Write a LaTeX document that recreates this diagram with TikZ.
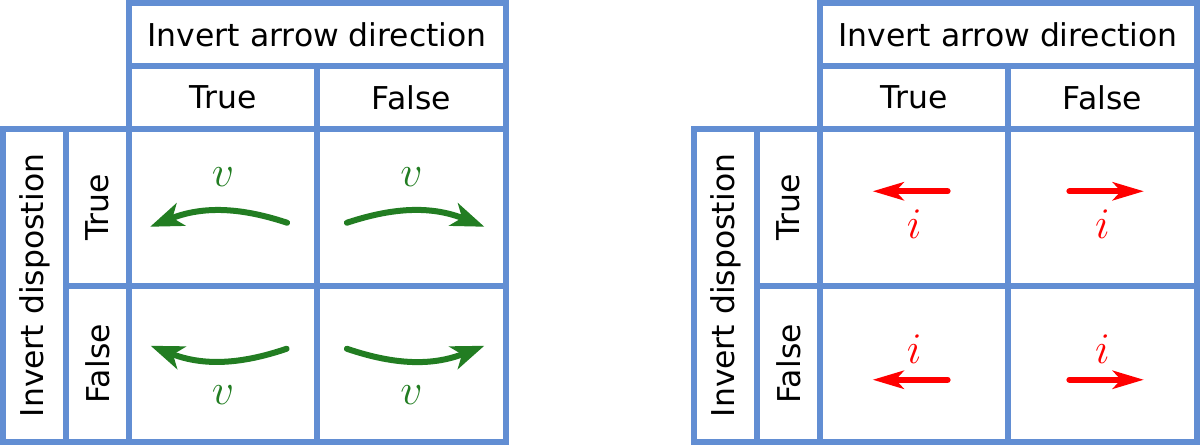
\documentclass[tikz,border=0pt]{standalone}
\usepackage{fontspec}
\setmainfont{DejaVu Sans}
\usepackage{tikz}
\usetikzlibrary{
    arrows.meta,
    positioning
}

\definecolor{gridblue}{RGB}{98,142,211}
\definecolor{vgreen}{RGB}{34,125,34}
\definecolor{ired}{RGB}{255,0,0}

\begin{document}
\begin{tikzpicture}[
    node distance=0cm,
    cell/.style={
        draw=gridblue,
        line width=1.2mm,
        outer sep=0pt,
        inner sep=0pt,
        align=center,
        font=\fontsize{17.9}{21}\selectfont
    },
    headcell/.style={cell, minimum width=7.53cm, minimum height=1.26cm},
    colcell/.style={cell, minimum width=3.765cm, minimum height=1.26cm},
    rowcell/.style={cell, minimum width=1.26cm, minimum height=3.13cm},
    sidecell/.style={cell, minimum width=1.26cm, minimum height=6.26cm},
    bodycell/.style={cell, minimum width=3.765cm, minimum height=3.13cm},
    varlabel/.style={font=\fontsize{26}{30}\selectfont},
    vflow/.style={
        draw=vgreen, line width=1.2mm, line cap=round,
        -{Stealth[length=6.6mm, width=4.8mm, inset=1.8mm]}
    },
    iflow/.style={
        draw=ired, line width=1.2mm, line cap=round,
        -{Stealth[length=6.2mm, width=3.6mm, inset=1.6mm]}
    }
]

\useasboundingbox (0,0) rectangle (24,-8.92);

% voltage table
\node[headcell, anchor=north west] (vhead) at (2.58,-0.06)
{Invert arrow direction};
\node[colcell, below right=0cm and 0cm of vhead.south west] (vcolT) {True};
\node[colcell, right=of vcolT] (vcolF) {False};
\node[bodycell, below=of vcolT] (vTT) {};
\node[bodycell, right=of vTT] (vTF) {};
\node[bodycell, below=of vTT] (vFT) {};
\node[bodycell, right=of vFT] (vFF) {};
\node[rowcell, left=of vTT] (vrowT) {\rotatebox{90}{True}};
\node[rowcell, left=of vFT] (vrowF) {\rotatebox{90}{False}};
\node[sidecell, below left=0cm and 0cm of vrowT.north west] (vside)
{\rotatebox{90}{Invert dispostion}};

\draw[vflow] ([shift={(1.28,-0.31)}]vTT.center)
    to[bend right=20] ([shift={(-1.46,-0.39)}]vTT.center);
\node[varlabel, text=vgreen] (vTTlab) at ([yshift=0.61cm]vTT.center) {$v$};

\draw[vflow] ([shift={(-1.29,-0.31)}]vTF.center)
    to[bend left=20] ([shift={(1.46,-0.39)}]vTF.center);
\node[varlabel, text=vgreen] (vTFlab) at ([yshift=0.61cm]vTF.center) {$v$};

\draw[vflow] ([shift={(1.27,0.30)}]vFT.center)
    to[bend left=20] ([shift={(-1.45,0.36)}]vFT.center);
\node[varlabel, text=vgreen] (vFTlab) at ([yshift=-0.63cm]vFT.center) {$v$};

\draw[vflow] ([shift={(-1.29,0.30)}]vFF.center)
    to[bend right=20] ([shift={(1.46,0.36)}]vFF.center);
\node[varlabel, text=vgreen] (vFFlab) at ([yshift=-0.63cm]vFF.center) {$v$};

% current table
\begin{scope}[xshift=13.82cm]
\node[headcell, anchor=north west] (ihead) at (2.58,-0.06)
{Invert arrow direction};
\node[colcell, below right=0cm and 0cm of ihead.south west] (icolT) {True};
\node[colcell, right=of icolT] (icolF) {False};
\node[bodycell, below=of icolT] (iTT) {};
\node[bodycell, right=of iTT] (iTF) {};
\node[bodycell, below=of iTT] (iFT) {};
\node[bodycell, right=of iFT] (iFF) {};
\node[rowcell, left=of iTT] (irowT) {\rotatebox{90}{True}};
\node[rowcell, left=of iFT] (irowF) {\rotatebox{90}{False}};
\node[sidecell, below left=0cm and 0cm of irowT.north west] (iside)
{\rotatebox{90}{Invert dispostion}};
\end{scope}

\draw[iflow] ([shift={(0.67,0.32)}]iTT.center) -- ([shift={(-0.83,0.32)}]iTT.center);
\node[varlabel, text=ired] (iTTlab) at ([yshift=-0.34cm]iTT.center) {$i$};

\draw[iflow] ([shift={(-0.66,0.32)}]iTF.center) -- ([shift={(0.83,0.32)}]iTF.center);
\node[varlabel, text=ired] (iTFlab) at ([yshift=-0.34cm]iTF.center) {$i$};

\draw[iflow] ([shift={(0.67,-0.32)}]iFT.center) -- ([shift={(-0.83,-0.32)}]iFT.center);
\node[varlabel, text=ired] (iFTlab) at ([yshift=0.30cm]iFT.center) {$i$};

\draw[iflow] ([shift={(-0.66,-0.32)}]iFF.center) -- ([shift={(0.83,-0.32)}]iFF.center);
\node[varlabel, text=ired] (iFFlab) at ([yshift=0.30cm]iFF.center) {$i$};

\end{tikzpicture}
\end{document}
